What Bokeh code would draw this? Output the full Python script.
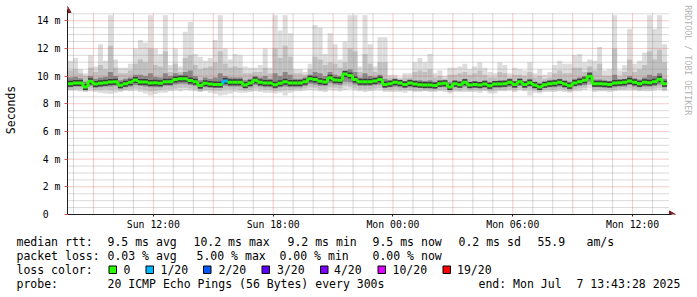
import numpy as np
from bokeh.plotting import figure
from bokeh.layouts import column
from bokeh.models import Range1d, FixedTicker, ColumnDataSource
from bokeh.core.properties import value
from bokeh.embed import file_html
from bokeh.resources import INLINE

# ---------------- data ----------------
# time: hours since Sun 00:00; first 15-min bin starts Sun 07:43:28
start_hour = 7 + 43 / 60 + 28 / 3600
bin_hours = 0.25

x_tick_hours = [12, 18, 24, 30, 36]
x_tick_labels = ["Sun 12:00", "Sun 18:00", "Mon 00:00", "Mon 06:00", "Mon 12:00"]
y_ticks = [0, 2, 4, 6, 8, 10, 12, 14]
y_tick_labels = ["0\u00a0\u00a0", "2 m", "4 m", "6 m", "8 m", "10 m", "12 m", "14 m"]

# median rtt (ms) per 15-min bin
rtt_median = [
    9.45, 9.5, 9.5, 9.22, 9.62, 9.42, 9.48, 9.52, 9.58, 9.6,
    9.34, 9.45, 9.55, 9.72, 9.58, 9.58, 9.5, 9.52, 9.48, 9.6,
    9.6, 9.75, 9.8, 9.8, 9.68, 9.6, 9.32, 9.48, 9.42, 9.4,
    9.4, 9.65, 9.55, 9.55, 9.55, 9.35, 9.5, 9.7, 9.55, 9.5,
    9.5, 9.38, 9.48, 9.6, 9.5, 9.5, 9.5, 9.6, 9.8, 9.75,
    9.62, 9.58, 9.88, 9.72, 9.7, 10.15, 10.05, 9.75, 9.6, 9.6,
    9.6, 9.65, 9.75, 9.4, 9.45, 9.55, 9.5, 9.4, 9.5, 9.42,
    9.38, 9.35, 9.35, 9.32, 9.45, 9.48, 9.22, 9.45, 9.38, 9.55,
    9.35, 9.4, 9.35, 9.42, 9.3, 9.42, 9.42, 9.45, 9.55, 9.4,
    9.6, 9.4, 9.52, 9.35, 9.22, 9.38, 9.45, 9.48, 9.55, 9.42,
    9.3, 9.5, 9.6, 9.7, 9.98, 9.45, 9.45, 9.42, 9.4, 9.5,
    9.52, 9.55, 9.65, 9.55, 9.45, 9.55, 9.52, 9.6, 9.78, 9.45,
]
rtt_max = [
    11.1, 11.3, 10.5, 10.2, 11.5, 10.7, 12.3, 11.1, 14.4, 11.2,
    10.6, 10.6, 10.9, 12.0, 12.6, 12.4, 14.4, 12.0, 11.6, 14.4,
    10.8, 12.0, 10.7, 13.2, 13.9, 11.6, 11.4, 11.1, 11.3, 12.6,
    14.4, 12.0, 11.2, 11.6, 11.5, 10.7, 10.6, 10.6, 10.8, 12.0,
    10.6, 14.4, 13.3, 14.4, 13.1, 10.5, 10.5, 10.3, 10.9, 13.7,
    13.5, 11.6, 13.1, 12.3, 11.2, 12.5, 14.4, 14.4, 10.7, 14.4,
    12.3, 10.7, 12.8, 12.8, 10.1, 10.1, 9.9, 10.2, 10.2, 11.0,
    11.3, 11.0, 11.6, 10.2, 10.4, 10.0, 10.6, 10.6, 10.7, 10.9,
    10.5, 10.7, 11.0, 10.6, 10.3, 10.2, 11.0, 10.8, 10.2, 10.6,
    10.5, 10.4, 11.0, 10.2, 10.5, 10.1, 10.3, 10.8, 11.1, 10.9,
    10.9, 11.5, 11.6, 11.0, 11.2, 11.1, 12.1, 10.4, 10.5, 14.4,
    10.4, 10.8, 13.4, 10.9, 11.1, 11.7, 14.4, 13.4, 14.4, 12.3,
]
rtt_p90 = [
    10.4, 10.5, 10.2, 10.0, 10.6, 10.3, 10.8, 10.5, 12.2, 10.6,
    10.2, 10.2, 10.4, 10.9, 11.2, 11.0, 12.0, 10.8, 10.7, 11.8,
    10.3, 10.9, 10.3, 11.3, 11.5, 10.8, 10.5, 10.6, 10.7, 11.0,
    11.8, 10.9, 10.6, 10.7, 10.6, 10.2, 10.2, 10.3, 10.3, 10.6,
    10.2, 12.0, 11.3, 12.2, 11.4, 10.2, 10.2, 10.1, 10.5, 11.4,
    11.2, 10.8, 11.0, 10.9, 10.6, 11.0, 12.0, 11.8, 10.3, 11.6,
    10.9, 10.3, 11.0, 11.0, 9.9, 9.9, 9.8, 9.9, 9.9, 10.3,
    10.4, 10.3, 10.5, 9.9, 10.0, 9.8, 10.1, 10.1, 10.2, 10.3,
    10.1, 10.2, 10.4, 10.1, 9.9, 9.9, 10.3, 10.2, 9.9, 10.1,
    10.1, 10.0, 10.3, 9.9, 10.0, 9.8, 9.9, 10.2, 10.4, 10.2,
    10.2, 10.6, 10.6, 10.3, 10.7, 10.4, 10.9, 10.0, 10.0, 12.0,
    10.0, 10.3, 11.2, 10.3, 10.5, 10.8, 11.8, 11.2, 11.9, 11.0,
]
rtt_p75 = [
    9.9, 9.95, 9.85, 9.6, 10.0, 9.8, 9.9, 9.95, 10.3, 10.0,
    9.7, 9.8, 9.9, 10.1, 10.1, 10.0, 10.2, 9.95, 9.9, 10.2,
    10.0, 10.2, 10.1, 10.3, 10.4, 10.0, 9.7, 9.9, 9.8, 9.9,
    10.2, 10.0, 9.9, 9.9, 9.9, 9.7, 9.8, 10.0, 9.9, 10.0,
    9.8, 10.2, 10.0, 10.3, 10.1, 9.8, 9.8, 9.9, 10.1, 10.3,
    10.2, 10.0, 10.3, 10.1, 10.0, 10.4, 10.5, 10.3, 9.9, 10.2,
    10.0, 9.95, 10.1, 9.8, 9.7, 9.8, 9.7, 9.65, 9.75, 9.7,
    9.7, 9.65, 9.7, 9.6, 9.7, 9.7, 9.55, 9.7, 9.65, 9.8,
    9.6, 9.65, 9.6, 9.7, 9.55, 9.65, 9.7, 9.7, 9.8, 9.65,
    9.8, 9.65, 9.8, 9.6, 9.5, 9.6, 9.7, 9.75, 9.8, 9.7,
    9.6, 9.8, 9.9, 10.0, 10.3, 9.75, 9.75, 9.7, 9.65, 10.1,
    9.75, 9.8, 10.0, 9.85, 9.75, 9.9, 10.1, 10.0, 10.2, 9.8,
]
rtt_p25 = [
    9.2, 9.25, 9.25, 9.0, 9.3, 9.15, 9.2, 9.25, 9.25, 9.3,
    9.1, 9.2, 9.25, 9.35, 9.3, 9.25, 9.2, 9.2, 9.2, 9.3,
    9.3, 9.4, 9.45, 9.45, 9.35, 9.3, 9.05, 9.2, 9.15, 9.15,
    9.15, 9.3, 9.25, 9.25, 9.25, 9.1, 9.2, 9.35, 9.25, 9.2,
    9.2, 9.1, 9.2, 9.25, 9.2, 9.2, 9.2, 9.3, 9.45, 9.4,
    9.3, 9.3, 9.5, 9.4, 9.35, 9.6, 9.55, 9.4, 9.3, 9.3,
    9.3, 9.35, 9.4, 9.15, 9.2, 9.25, 9.2, 9.15, 9.2, 9.15,
    9.15, 9.1, 9.1, 9.1, 9.2, 9.2, 9.0, 9.2, 9.15, 9.25,
    9.1, 9.15, 9.1, 9.15, 9.05, 9.15, 9.15, 9.2, 9.25, 9.15,
    9.3, 9.15, 9.25, 9.1, 9.0, 9.15, 9.2, 9.2, 9.25, 9.15,
    9.05, 9.25, 9.3, 9.35, 9.6, 9.2, 9.2, 9.15, 9.15, 9.2,
    9.25, 9.25, 9.35, 9.25, 9.2, 9.25, 9.25, 9.3, 9.4, 9.2,
]
rtt_p10 = [
    9.0, 9.05, 9.05, 8.9, 9.1, 9.0, 9.0, 9.05, 9.0, 9.05,
    8.95, 9.0, 9.05, 9.1, 9.05, 9.0, 8.9, 8.95, 9.0, 9.05,
    9.05, 9.1, 9.15, 9.15, 9.1, 9.05, 8.9, 9.0, 9.0, 8.95,
    8.95, 9.05, 9.05, 9.05, 9.0, 8.95, 9.0, 9.1, 9.05, 9.0,
    9.0, 8.9, 8.95, 9.0, 9.0, 9.05, 9.05, 9.1, 9.2, 9.15,
    9.05, 9.05, 9.2, 9.15, 9.1, 9.3, 9.25, 9.1, 9.05, 9.05,
    9.05, 9.1, 9.15, 9.0, 9.0, 9.05, 9.0, 9.0, 9.0, 8.95,
    8.95, 8.95, 8.95, 8.95, 9.0, 9.0, 8.85, 9.0, 8.95, 9.05,
    8.95, 9.0, 8.95, 9.0, 8.9, 8.95, 9.0, 9.0, 9.05, 9.0,
    9.1, 9.0, 9.05, 8.95, 8.85, 9.0, 9.0, 9.0, 9.05, 9.0,
    8.9, 9.05, 9.1, 9.15, 9.35, 9.0, 9.0, 9.0, 9.0, 9.0,
    9.05, 9.05, 9.1, 9.05, 9.0, 9.05, 9.05, 9.1, 9.15, 9.0,
]
rtt_min = [
    8.95, 8.95, 8.9, 8.85, 8.9, 8.85, 8.8, 8.75, 8.7, 8.8,
    8.85, 8.95, 8.9, 8.95, 8.85, 8.75, 8.6, 8.7, 8.8, 8.8,
    8.9, 8.95, 8.9, 9.0, 8.95, 8.9, 8.85, 8.9, 8.8, 8.7,
    8.6, 8.65, 8.75, 8.85, 8.8, 8.8, 8.85, 8.9, 8.85, 8.8,
    8.8, 8.75, 8.8, 8.6, 8.8, 8.9, 8.9, 8.95, 9.0, 8.95,
    8.9, 8.85, 9.0, 8.95, 8.9, 9.0, 9.05, 8.95, 8.9, 8.85,
    8.9, 8.95, 8.95, 8.85, 8.85, 8.85, 8.85, 8.8, 8.9, 8.85,
    8.85, 8.9, 8.85, 8.85, 8.9, 8.85, 8.75, 8.85, 8.85, 8.85,
    8.85, 8.85, 8.8, 8.9, 8.75, 8.75, 8.9, 8.9, 8.95, 8.85,
    8.95, 8.9, 8.6, 8.8, 8.75, 8.85, 8.85, 8.85, 8.9, 8.85,
    8.8, 8.9, 8.9, 9.0, 9.1, 8.85, 8.9, 8.9, 8.85, 8.9,
    8.95, 8.95, 8.95, 8.95, 8.9, 8.9, 8.9, 8.95, 9.0, 8.9,
]
# lost pings out of 20 per bin
loss = [
    0, 0, 0, 0, 0, 0, 0, 0, 0, 0,
    0, 0, 0, 0, 0, 0, 0, 0, 0, 0,
    0, 0, 0, 0, 0, 0, 0, 0, 0, 0,
    0, 1, 0, 0, 0, 0, 0, 0, 0, 0,
    0, 0, 0, 0, 0, 0, 0, 0, 0, 0,
    0, 0, 0, 0, 0, 0, 0, 0, 0, 0,
    0, 0, 0, 0, 0, 0, 0, 0, 0, 0,
    0, 0, 0, 0, 0, 0, 0, 0, 0, 0,
    0, 0, 0, 0, 0, 0, 0, 0, 0, 0,
    0, 0, 0, 0, 0, 0, 0, 0, 0, 0,
    0, 0, 0, 0, 0, 0, 0, 0, 0, 0,
    0, 0, 0, 0, 0, 0, 0, 0, 0, 0,
]
loss_levels = [0, 1, 2, 3, 4, 10, 19]
loss_labels = ["0", "1/20", "2/20", "3/20", "4/20", "10/20", "19/20"]
loss_colors = ["#26ff00", "#00b8ff", "#0059ff", "#5e00ff", "#7e00ff", "#dd00ff", "#ff0000"]

stats_line1 = [("median rtt:", 16), ("9.5 ms avg", 107), ("10.2 ms max", 193),
               ("9.2 ms min", 287), ("9.5 ms now", 372), ("0.2 ms sd", 458),
               ("55.9", 537), ("am/s", 586)]
stats_line2 = [("packet loss:", 16), ("0.03 % avg", 107), ("5.00 % max", 196),
               ("0.00 % min", 279), ("0.00 % now", 372)]
probe_line = [("probe:", 16), ("20 ICMP Echo Pings (56 Bytes) every 300s", 107),
              ("end: Mon Jul", 478), ("7 13:43:28 2025", 576)]

# ---------------- layout (pixels) ----------------
W = 697
H_MAIN = 232
H_LEG = 297 - H_MAIN
FL, FR, FT, FB = 66, 697, 5, 215
PX_PER_H = 20.0
X0 = 7.70
X1 = X0 + (FR - FL) / PX_PER_H
MS_PER_PX = 14.0 / (FB - 20.3)
Y1 = (FB - FT) * MS_PER_PX


def X(px):
    return X0 + (px - FL) / PX_PER_H


def Y(py):
    return (FB - py) * MS_PER_PX


MONO = "DejaVu Sans Mono"
grid_grey = "#8f8f8f"
grid_red = "#de4f4f"
arrow_col = "#801f1f"
axis_col = "#1f1f1f"

p = figure(width=W, height=H_MAIN, x_range=Range1d(X0, X1), y_range=Range1d(0, Y1),
           output_backend="svg", toolbar_location=None,
           min_border_left=FL, min_border_right=0,
           min_border_top=FT, min_border_bottom=H_MAIN - FB)
p.outline_line_color = None
p.background_fill_color = "white"
p.border_fill_color = "white"
p.grid.visible = False

# smoke
t = start_hour + bin_hours * np.arange(len(rtt_median))
src = ColumnDataSource(dict(
    left=t, right=t + bin_hours, mx=rtt_max, p90=rtt_p90, p75=rtt_p75,
    p25=rtt_p25, p10=rtt_p10, mn=rtt_min, med=rtt_median))
p.quad(left="left", right="right", bottom="mn", top="mx", source=src,
       fill_color="#dddddd", line_color=None)
p.quad(left="left", right="right", bottom="p10", top="p90", source=src,
       fill_color="#c0c0c0", line_color=None)
p.quad(left="left", right="right", bottom="p25", top="p75", source=src,
       fill_color="#888888", line_color=None)

# grid (dotted), limited to the chart area
gx_top = Y(13)
gy_right = X(668)
hours_minor = [h for h in range(8, 38) if h % 3 != 0]
hours_major = [h for h in range(9, 38, 3)]
ms_minor = [k * 0.5 for k in range(1, 30) if k % 4 != 0]
ms_major = [v for v in y_ticks if v > 0]
p.segment(x0=hours_minor, y0=0, x1=hours_minor, y1=gx_top,
          line_color=grid_grey, line_alpha=0.7, line_dash="1 1", line_width=1)
p.segment(x0=X0, y0=ms_minor, x1=gy_right, y1=ms_minor,
          line_color=grid_grey, line_alpha=0.65, line_dash="1 1", line_width=1)
p.segment(x0=hours_major, y0=0, x1=hours_major, y1=gx_top,
          line_color=grid_red, line_alpha=0.6, line_dash="1 1", line_width=1)
p.segment(x0=X0, y0=ms_major, x1=gy_right, y1=ms_major,
          line_color=grid_red, line_alpha=0.6, line_dash="1 1", line_width=1)


def loss_color(n):
    c = loss_colors[0]
    for lvl, col in zip(loss_levels, loss_colors):
        if n >= lvl:
            c = col
    return c


colors = [loss_color(n) for n in loss]
med = np.array(rtt_median)
p.segment(x0=t, y0=med, x1=t + bin_hours, y1=med, line_color="#3c3c3c", line_width=6)
p.segment(x0=t[1:], y0=med[:-1], x1=t[1:], y1=med[1:], line_color=colors[1:], line_width=3)
p.segment(x0=t, y0=med, x1=t + bin_hours, y1=med, line_color=colors, line_width=3)

# axes
for ax in (p.xaxis[0], p.yaxis[0]):
    ax.axis_line_color = axis_col
    ax.major_tick_line_color = axis_col
    ax.minor_tick_line_color = None
    ax.major_tick_in = 0
    ax.major_label_text_font = MONO
    ax.major_label_text_font_size = "9.8px"
    ax.major_label_text_color = "black"
p.xaxis.ticker = FixedTicker(ticks=x_tick_hours)
p.xaxis.major_label_overrides = dict(zip(x_tick_hours, x_tick_labels))
p.xaxis.major_tick_out = 2
p.xaxis.major_label_standoff = 2
p.xaxis.bounds = (X0, X(671))
p.yaxis.ticker = FixedTicker(ticks=y_ticks)
p.yaxis.major_label_overrides = dict(zip(y_ticks, y_tick_labels))
p.yaxis.major_tick_out = 3
p.yaxis.major_tick_line_color = grid_red
p.yaxis.major_label_standoff = 4
p.yaxis.bounds = (0, Y(9))
p.yaxis.axis_label = "Seconds"
p.yaxis.axis_label_text_font = MONO
p.yaxis.axis_label_text_font_size = "11.5px"
p.yaxis.axis_label_text_font_style = "normal"
p.yaxis.axis_label_text_color = "black"
p.yaxis.axis_label_standoff = 16

# axis arrows
p.scatter(x=[X(66)], y=[Y(10)], marker="triangle", size=7,
          fill_color=arrow_col, line_color=arrow_col)
p.scatter(x=[X(671)], y=[0], marker="triangle", size=7, angle=-np.pi / 2,
          fill_color=arrow_col, line_color=arrow_col)

# vertical watermark
p.text(x=[X(687)], y=[Y(60)], text=["RRDTOOL / TOBI OETIKER"], angle=-np.pi / 2,
       text_align="center", text_baseline="middle", text_font=value(MONO),
       text_font_size="8.3px", text_color="#b4b4b4")

# ---------------- legend / stats block ----------------
q = figure(width=W, height=H_LEG, x_range=Range1d(0, W), y_range=Range1d(H_LEG, 0),
           output_backend="svg", toolbar_location=None,
           min_border_left=0, min_border_right=0, min_border_top=0, min_border_bottom=0,
           x_axis_location=None, y_axis_location=None)
q.outline_line_color = None
q.grid.visible = False
q.background_fill_color = "white"
q.border_fill_color = "white"

# keep each figure's own frame (no cross-figure frame alignment)
for fig in (p, q):
    if "frame_align" in fig.properties():
        fig.frame_align = False


def add_line(parts, ypx):
    q.text(x=[xp for _, xp in parts], y=[ypx - H_MAIN] * len(parts),
           text=[tx for tx, _ in parts], text_align="left", text_baseline="middle",
           text_font=value(MONO), text_font_size="11.5px", text_color="black")


add_line(stats_line1, 241)
add_line(stats_line2, 255)
add_line([("loss color:", 16)], 269)
add_line(probe_line, 283)

box_x = [108.5, 145.5, 203, 261.5, 320, 377.5, 442.5]
lab_x = [123, 160, 218, 276.5, 333.5, 392, 456.5]
q.quad(left=box_x, right=[b + 7.5 for b in box_x],
       top=[265.5 - H_MAIN] * len(box_x), bottom=[273 - H_MAIN] * len(box_x),
       fill_color=loss_colors, line_color="black", line_width=1)
add_line(list(zip(loss_labels, lab_x)), 269)

layout = column(p, q, spacing=0)
open("out.html", "w").write(file_html(layout, INLINE))
